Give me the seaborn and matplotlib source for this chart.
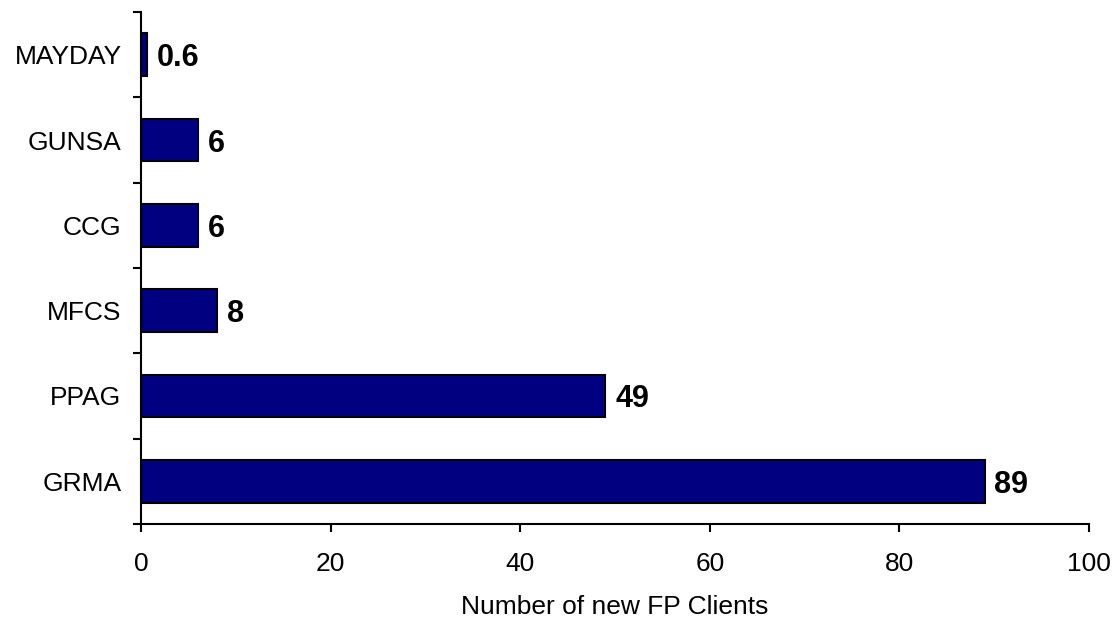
import matplotlib
matplotlib.use("Agg")
import matplotlib.pyplot as plt
import seaborn as sns
import pandas as pd
import numpy as np

categories = ["MAYDAY", "GUNSA", "CCG", "MFCS", "PPAG", "GRMA"]
values = [0.6, 6, 6, 8, 49, 89]
value_labels = ["0.6", "6", "6", "8", "49", "89"]
x_ticks = [0, 20, 40, 60, 80, 100]
x_label = "Number of new FP Clients"

sns.set_theme(style="white")
plt.rcParams['font.family'] = ['Liberation Sans', 'DejaVu Sans']
plt.rcParams['text.color'] = 'black'
plt.rcParams['xtick.color'] = 'black'
plt.rcParams['ytick.color'] = 'black'
plt.rcParams['axes.labelcolor'] = 'black'

df = pd.DataFrame({"cat": categories, "val": values})

fig = plt.figure(figsize=(11.18, 6.23), dpi=100)
ax = fig.add_axes([0.1261, 0.159, 0.974 - 0.1261, 0.9807 - 0.159])

sns.barplot(data=df, y="cat", x="val", order=categories, orient="h",
            color="#000080", saturation=1, width=0.5,
            edgecolor="black", linewidth=1.5, ax=ax)

ax.set_xlim(0, 100)
ax.set_ylim(len(categories) - 0.5, -0.5)
ax.set_xticks(x_ticks)
ax.set_xticklabels([str(t) for t in x_ticks], fontsize=19)
ax.set_xlabel(x_label, fontsize=19, labelpad=14)
ax.set_ylabel("")

ax.set_yticks(range(len(categories)))
ax.set_yticklabels(categories, fontsize=19)
ax.set_yticks(np.arange(-0.5, len(categories)), minor=True)
ax.tick_params(axis="y", which="major", length=0, pad=14)
ax.tick_params(axis="y", which="minor", length=6, width=1.5, color="black", direction="out", left=True)
ax.tick_params(axis="x", which="major", length=6, width=1.5, color="black", direction="out", bottom=True, pad=14)

for s in ["top", "right"]:
    ax.spines[s].set_visible(False)
for s in ["left", "bottom"]:
    ax.spines[s].set_color("black")
    ax.spines[s].set_linewidth(1.5)

for i, (v, lab) in enumerate(zip(values, value_labels)):
    ax.annotate(lab, xy=(v, i), xytext=(7, 0), textcoords="offset points",
                ha="left", va="center_baseline", fontsize=22, fontweight="bold", color="black")

ax.grid(False)
fig.savefig("out.png", dpi=100, facecolor="white")
